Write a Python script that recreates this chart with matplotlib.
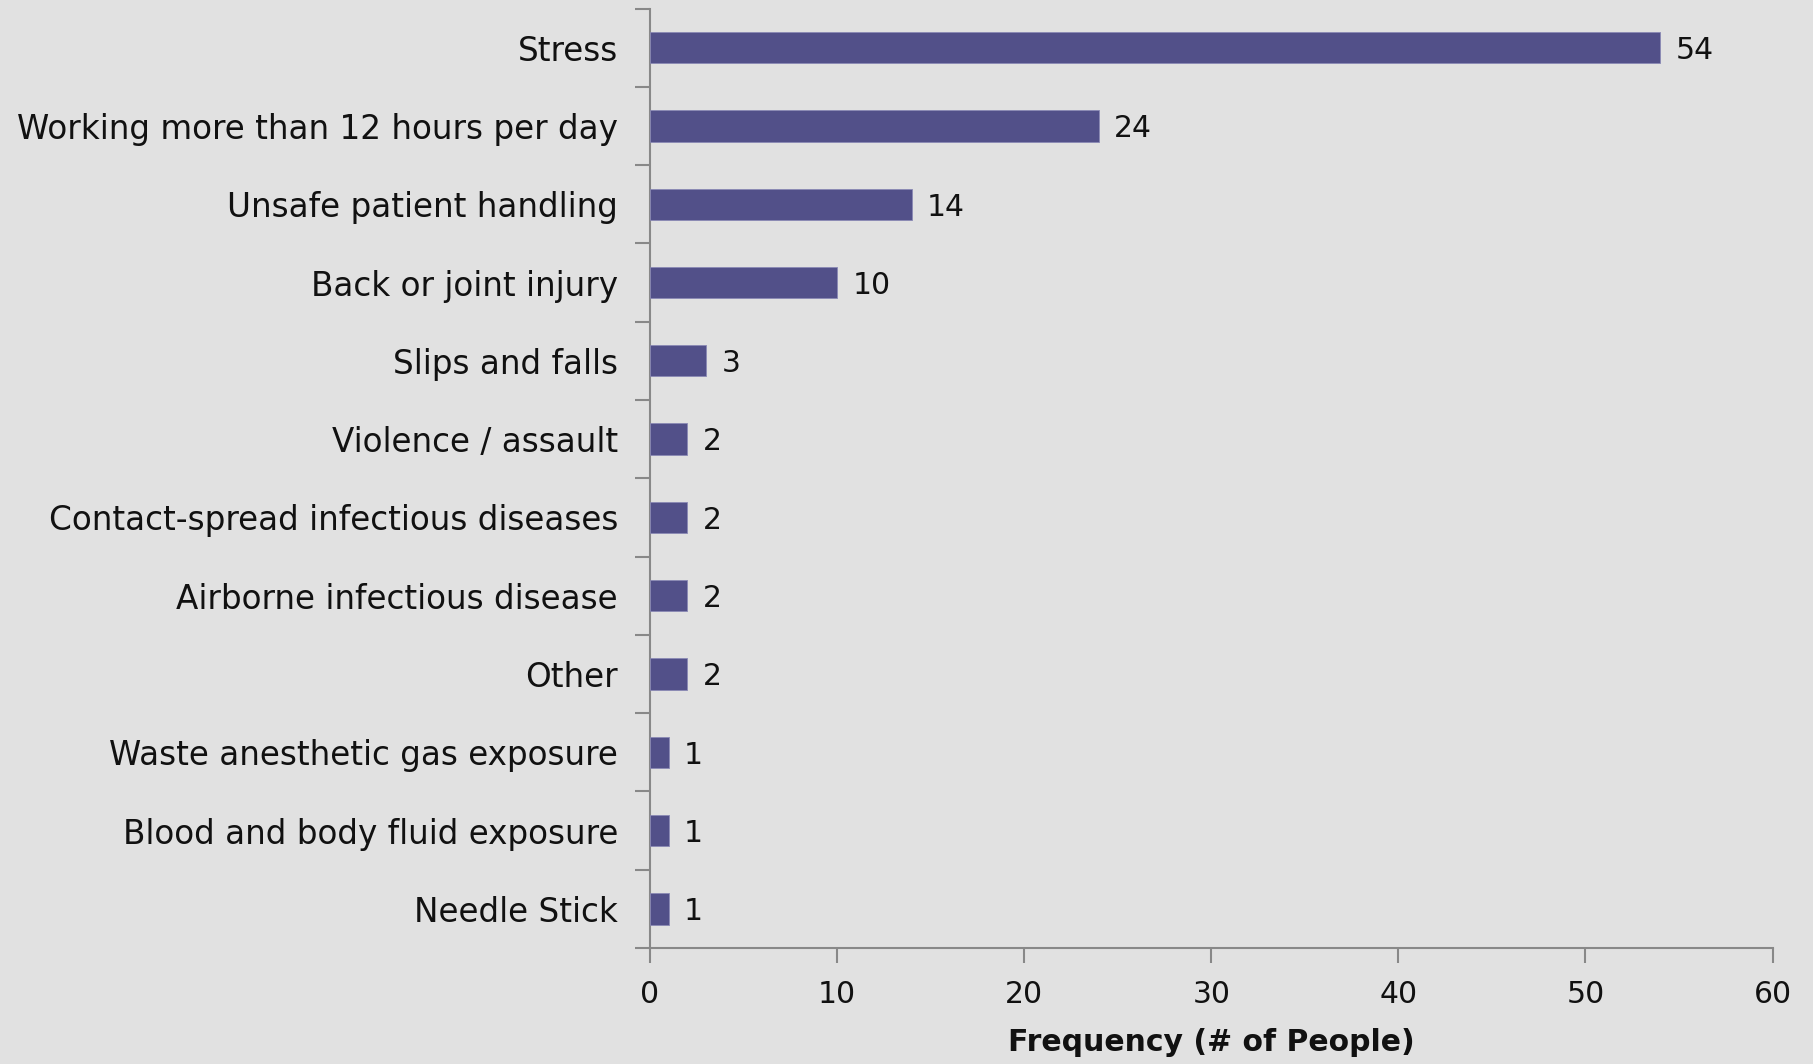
import matplotlib
matplotlib.use("Agg")
import matplotlib.pyplot as plt
import numpy as np

categories = ["Stress", "Working more than 12 hours per day", "Unsafe patient handling",
              "Back or joint injury", "Slips and falls", "Violence / assault",
              "Contact-spread infectious diseases", "Airborne infectious disease", "Other",
              "Waste anesthetic gas exposure", "Blood and body fluid exposure", "Needle Stick"]
values = [54, 24, 14, 10, 3, 2, 2, 2, 2, 1, 1, 1]
xticks = [0, 10, 20, 30, 40, 50, 60]

plt.rcParams['font.family'] = ['DejaVu Sans']
bg = "#e1e1e1"
fs = 21.5
fig = plt.figure(figsize=(18.13, 10.64), dpi=100, facecolor=bg)
ax = fig.add_axes([0.3585, 0.109, 0.6192, 0.883])
ax.set_facecolor(bg)

y = np.arange(len(categories))
ax.barh(y, values, height=0.4, color="#525089", edgecolor="#8a89b5", linewidth=0.6, zorder=3)
for yi, v in zip(y, values):
    ax.annotate(str(v), (v, yi), xytext=(11, -2), textcoords="offset points",
                ha="left", va="center", fontsize=fs, color="#111111")

ax.set_ylim(len(categories) - 0.5, -0.5)
ax.set_xlim(0, 60)
ax.set_yticks(y)
ax.set_yticklabels(categories, fontsize=23.5, color="#111111")
ax.set_yticks(np.arange(-0.5, len(categories), 1), minor=True)
ax.tick_params(axis="y", which="major", length=0, pad=23)
ax.tick_params(axis="y", which="minor", length=11, width=1.5, color="#888888")
ax.set_xticks(xticks)
ax.set_xticklabels([str(t) for t in xticks], fontsize=fs, color="#111111")
ax.tick_params(axis="x", which="major", length=11, width=1.5, color="#888888", pad=12)
for s in ["top", "right"]:
    ax.spines[s].set_visible(False)
for s in ["left", "bottom"]:
    ax.spines[s].set_color("#888888")
    ax.spines[s].set_linewidth(1.5)
ax.set_xlabel("Frequency (# of People)", fontsize=fs, fontweight="bold", color="#111111", labelpad=14)

fig.savefig("out.png", dpi=100, facecolor=bg)
